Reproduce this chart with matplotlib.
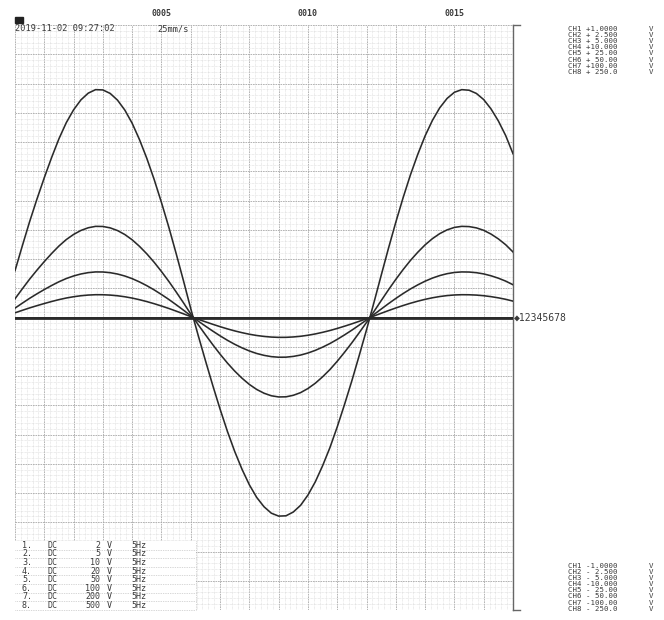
import numpy as np
import matplotlib
matplotlib.use("Agg")
from matplotlib import pyplot as plt
from matplotlib.patches import Rectangle
from matplotlib.transforms import blended_transform_factory

# Data: input signal (V), one sample every 1/4 division
SIGNAL_V = [0.160, 0.245, 0.328, 0.405, 0.478, 0.547, 0.611, 0.666, 0.710, 0.744,
            0.767, 0.779, 0.778, 0.766, 0.743, 0.709, 0.664, 0.608, 0.544, 0.472,
            0.393, 0.309, 0.219, 0.126, 0.030, -0.060, -0.147, -0.232, -0.313, -0.389,
            -0.458, -0.519, -0.572, -0.615, -0.647, -0.669, -0.679, -0.678, -0.665, -0.642,
            -0.607, -0.562, -0.507, -0.445, -0.374, -0.297, -0.216, -0.130, -0.042, 0.050,
            0.144, 0.237, 0.326, 0.410, 0.488, 0.558, 0.621, 0.674, 0.717, 0.749,
            0.770, 0.779, 0.777, 0.766, 0.745, 0.713, 0.672, 0.622, 0.560]
SAMPLE_STEP_DIV = 0.25

CHANNELS = ['1', '2', '3', '4', '5', '6', '7', '8']
COUPLING = ['DC'] * 8
RANGE_V = [2, 5, 10, 20, 50, 100, 200, 500]
FILTER = ['5Hz'] * 8
SHOWN_WAVE = [True, True, True, True, False, False, False, False]

UPPER_LABELS = ['+1.0000', '+ 2.500', '+ 5.000', '+10.000', '+ 25.00', '+ 50.00', '+100.00', '+ 250.0']
LOWER_LABELS = ['-1.0000', '- 2.500', '- 5.000', '-10.000', '- 25.00', '- 50.00', '-100.00', '- 250.0']
TIME_MARKS = [5, 10, 15]
HEADER_TIME = '2019-11-02 09:27:02'
CHART_SPEED = '25mm/s'

N_XDIV = 17
N_YDIV = 20

MONO = ['DejaVu Sans Mono', 'DejaVu Sans']
INK = '#3a3a3a'


def fx(px):
    return px / 664


def fy(py):
    return 1 - py / 620


fig = plt.figure(figsize=(6.64, 6.2), dpi=100)
ax = fig.add_axes([fx(15), 10 / 620, 498 / 664, 585 / 620])
ax.set_xlim(0, N_XDIV)
ax.set_ylim(-N_YDIV / 2, N_YDIV / 2)

# chart paper grid
for v in np.arange(0, N_XDIV + 0.01, 0.2):
    major = abs(v - round(v)) < 1e-6
    ax.axvline(v, color='#a8a8a8' if major else '#d2d2d2', lw=0.6 if major else 0.45,
               ls=(0, (2, 1)) if major else (0, (1, 1.2)), zorder=1)
for v in np.arange(-N_YDIV / 2, N_YDIV / 2 + 0.01, 0.2):
    major = abs(v - round(v)) < 1e-6
    ax.axhline(v, color='#a8a8a8' if major else '#d2d2d2', lw=0.6 if major else 0.45,
               ls=(0, (2, 1)) if major else (0, (1, 1.2)), zorder=1)

# traces: full scale of each channel = +/- range/2 over +/-10 divisions
t = np.arange(len(SIGNAL_V)) * SAMPLE_STEP_DIV
sig = np.array(SIGNAL_V)
for rng, shown in zip(RANGE_V, SHOWN_WAVE):
    trace = sig / (rng / 2) * (N_YDIV / 2) if shown else np.zeros_like(sig)
    ax.plot(t, trace, color='#2a2a2a', lw=1.15, zorder=3)
ax.axhline(0, color='#2a2a2a', lw=2.0, zorder=3)

for s in ['left', 'top', 'bottom']:
    ax.spines[s].set_visible(False)
ax.spines['right'].set_color('#666666')
ax.spines['right'].set_linewidth(1.0)
ax.set_xticks([])
ax.set_yticks([])

# short end ticks on the right border
ax.plot([N_XDIV, N_XDIV + 0.25], [N_YDIV / 2, N_YDIV / 2], color='#666666', lw=1.0,
        clip_on=False, zorder=4)
ax.plot([N_XDIV, N_XDIV + 0.25], [-N_YDIV / 2, -N_YDIV / 2], color='#666666', lw=1.0,
        clip_on=False, zorder=4)

# zero marker with channel numbers
ax.text(N_XDIV + 0.02, 0, '\u25c6' + ''.join(CHANNELS), family=MONO, fontsize=7,
        va='center', ha='left', color=INK, zorder=5, clip_on=False)

# time marks above the chart
bt = blended_transform_factory(ax.transData, ax.transAxes)
for m in TIME_MARKS:
    ax.text(m, 1.019, '%04d' % m, transform=bt, family=MONO, fontsize=6,
            fontweight='bold', ha='center', va='center', color=INK)

# header
fig.patches.append(Rectangle((fx(15), fy(23)), 8 / 664, 6 / 620,
                             transform=fig.transFigure, color='#222222'))
fig.text(fx(15), fy(28.5), HEADER_TIME, family=MONO, fontsize=6.2,
         ha='left', va='center', color=INK)
fig.text(fx(157), fy(28.5), CHART_SPEED, family=MONO, fontsize=6.2,
         ha='left', va='center', color=INK)

# range table bottom-left
tb_left, tb_right = 15, 196
tb_top, row_h = 541, 8.6
fig.patches.append(Rectangle((fx(tb_left), fy(610)), (tb_right - tb_left) / 664,
                             (610 - tb_top) / 620, transform=fig.transFigure,
                             facecolor='white', edgecolor='none', zorder=6))
for i, ch in enumerate(CHANNELS):
    yc = fy(tb_top + 4.3 + i * row_h)
    kw = dict(family=MONO, fontsize=6, va='center', color=INK, zorder=7)
    fig.text(fx(22), yc, ch + '.', ha='left', **kw)
    fig.text(fx(48), yc, COUPLING[i], ha='left', **kw)
    fig.text(fx(100), yc, str(RANGE_V[i]), ha='right', **kw)
    fig.text(fx(107), yc, 'V', ha='left', **kw)
    fig.text(fx(131), yc, FILTER[i], ha='left', **kw)
    yl = fy(tb_top + (i + 1) * row_h)
    fig.lines.append(plt.Line2D([fx(tb_left), fx(tb_right)], [yl, yl],
                                transform=fig.transFigure, color='#b0b0b0', lw=0.5,
                                ls=(0, (1, 1.5)), zorder=7))
fig.lines.append(plt.Line2D([fx(tb_right), fx(tb_right)], [fy(tb_top), fy(610)],
                            transform=fig.transFigure, color='#b0b0b0', lw=0.5,
                            ls=(0, (1, 1.5)), zorder=7))

# full-scale legends on the right
for i, ch in enumerate(CHANNELS):
    kw = dict(family=MONO, fontsize=5.3, va='center', ha='left', color=INK)
    y_up = fy(29 + i * 6.1)
    fig.text(fx(568), y_up, 'CH%s %s' % (ch, UPPER_LABELS[i]), **kw)
    fig.text(fx(649), y_up, 'V', **kw)
    y_lo = fy(566 + i * 6.1)
    fig.text(fx(568), y_lo, 'CH%s %s' % (ch, LOWER_LABELS[i]), **kw)
    fig.text(fx(649), y_lo, 'V', **kw)

fig.savefig('out.png', dpi=100, facecolor='white')
